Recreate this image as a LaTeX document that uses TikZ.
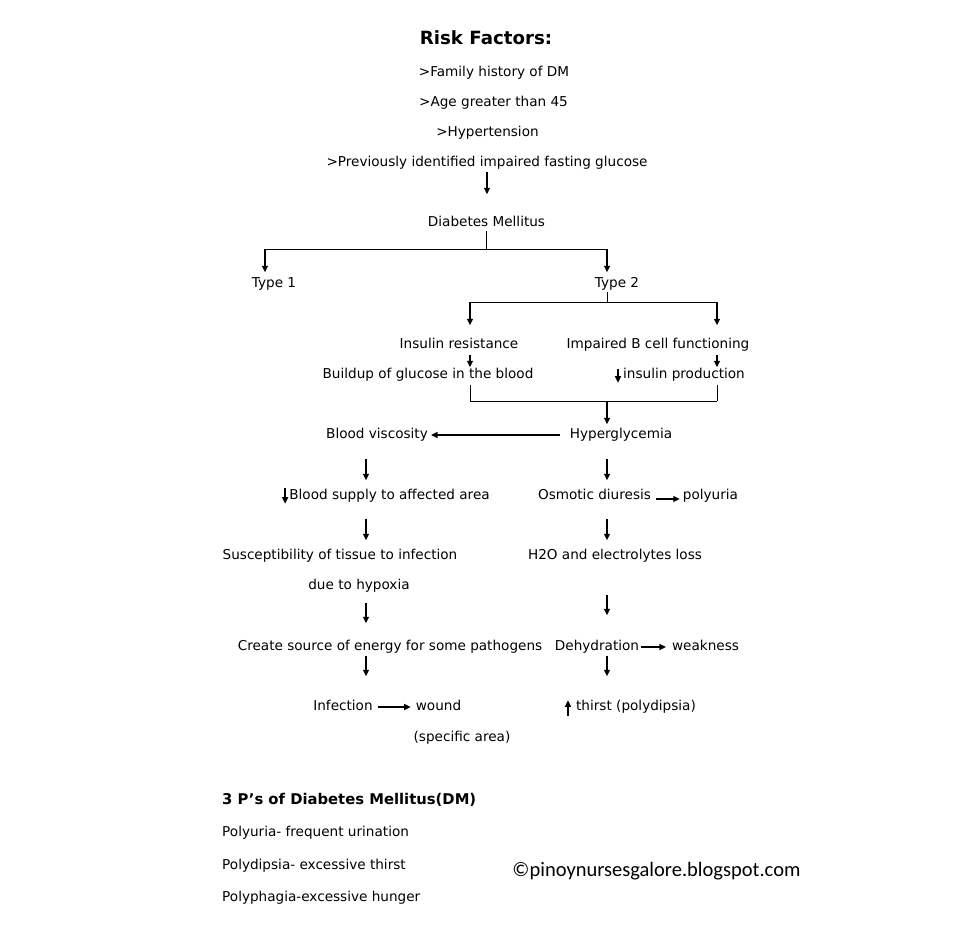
\documentclass[tikz,border=0pt]{standalone}
\usepackage{fontspec}
\setmainfont{DejaVu Sans}
\newfontfamily\blogfont{Carlito}
\usetikzlibrary{arrows.meta}
\tikzset{
  txt/.style={inner sep=0pt, text height=10pt, text depth=3pt, font=\fontsize{13.6}{15}\selectfont},
  head/.style={inner sep=0pt, font=\bfseries\fontsize{18.2}{20}\selectfont},
  arr/.style={-{Triangle[length=6.5pt,width=6pt]}, line width=1.4pt},
  ln/.style={line width=1pt}
}
\begin{document}
\begin{tikzpicture}[x=1pt,y=-1pt]
  \useasboundingbox (0,0) rectangle (962,926);

  % risk factors
  \node[head] (rf) at (486,38) {Risk Factors:};
  \node[txt] (rf1) at (494,73) {>Family history of DM};
  \node[txt] (rf2) at (493.5,103) {>Age greater than 45};
  \node[txt] (rf3) at (487.5,133) {>Hypertension};
  \node[txt] (rf4) at (487,163) {>Previously identified impaired fasting glucose};
  \node[txt] (dm) at (486.5,223) {Diabetes Mellitus};
  \draw[arr, shorten <=2pt, shorten >=22pt] (rf4.south) -- (rf4.south |- dm.north);

  % types
  \node[txt] (t1) at (274,284) {Type 1};
  \node[txt] (t2) at (617,284) {Type 2};
  \coordinate (dmL) at (265,249);
  \coordinate (dmR) at (607,249);
  \draw[ln, shorten <=1pt] (dm.south) -- (dm.south |- dmL);
  \draw[ln] (dmL) -- (dmR);
  \draw[arr] (dmL) -- ([yshift=5pt]dmL |- t1.north);
  \draw[arr] (dmR) -- ([yshift=5pt]dmR |- t2.north);

  % type 2 branches
  \node[txt] (ir) at (459,345) {Insulin resistance};
  \node[txt] (ib) at (658,345) {Impaired B cell functioning};
  \node[txt] (bg) at (428,375) {Buildup of glucose in the blood};
  \node[txt] (ip) at (684,375) {insulin production};
  \coordinate (t2L) at (470,302);
  \coordinate (t2R) at (717,302);
  \draw[ln, shorten <=1pt] (t2.south -| dmR) -- (dmR |- t2L);
  \draw[ln] (t2L) -- (t2R);
  \draw[arr] (t2L) -- ([yshift=13pt]t2L |- ir.north);
  \draw[arr] (t2R) -- ([yshift=13pt]t2R |- ib.north);
  \draw[arr, shorten <=3pt, shorten >=1pt] (t2L |- ir.south) -- (t2L |- bg.north);
  \draw[arr, shorten <=3pt, shorten >=1pt] (t2R |- ib.south) -- (t2R |- ip.north);
  \draw[arr] ([xshift=-5pt,yshift=-1pt]ip.north west) -- ([xshift=-5pt,yshift=-1pt]ip.south west);

  % hyperglycemia
  \node[txt] (hy) at (621,435) {Hyperglycemia};
  \node[txt] (bv) at (377,435) {Blood viscosity};
  \coordinate (bgR) at (470,401);
  \coordinate (ipR) at (717,401);
  \draw[ln, shorten <=3pt] (bgR |- bg.south) -- (bgR);
  \draw[ln, shorten <=3pt] (ipR |- ip.south) -- (ipR);
  \draw[ln] (bgR) -- (ipR);
  \draw[arr] (dmR |- bgR) -- ([yshift=4pt]dmR |- hy.north);
  \draw[arr, shorten <=10pt, shorten >=3pt] (hy.west) -- (bv.east);

  % left column
  \coordinate (colL) at (366,0);
  \node[txt] (bs) at (389.5,496) {Blood supply to affected area};
  \node[txt] (st) at (340,556) {Susceptibility of tissue to infection};
  \node[txt] (dh) at (359,586) {due to hypoxia};
  \node[txt] (cs) at (390,647) {Create source of energy for some pathogens};
  \node[txt] (inf) at (343,707) {Infection};
  \node[txt] (wd) at (438.5,707) {wound};
  \node[txt] (sa) at (462,738) {(specific area)};
  \draw[arr, shorten <=17pt, shorten >=9pt] (colL |- bv.south) -- (colL |- bs.north);
  \draw[arr] ([xshift=-4pt,yshift=1pt]bs.north west) -- ([xshift=-4pt,yshift=-1pt]bs.south west);
  \draw[arr, shorten <=16pt, shorten >=9pt] (colL |- bs.south) -- (colL |- st.north);
  \draw[arr, shorten <=10pt, shorten >=17pt] (colL |- dh.south) -- (colL |- cs.north);
  \draw[arr, shorten <=2pt, shorten >=24pt] (colL |- cs.south) -- (colL |- inf.north);
  \draw[arr, shorten <=5pt, shorten >=5pt] (inf.east) -- (wd.west);

  % right column
  \coordinate (colR) at (607,0);
  \node[txt] (od) at (594.5,496) {Osmotic diuresis};
  \node[txt] (po) at (710.5,496) {polyuria};
  \node[txt] (hl) at (615,556) {H2O and electrolytes loss};
  \node[txt] (de) at (597,647) {Dehydration};
  \node[txt] (wk) at (705.5,647) {weakness};
  \node[txt] (th) at (636,707) {thirst (polydipsia)};
  \draw[arr, shorten <=17pt, shorten >=9pt] (colR |- hy.south) -- (colR |- od.north);
  \draw[arr, shorten <=5pt, shorten >=3pt] ([yshift=-3pt]od.east) -- ([yshift=-3pt]po.west);
  \draw[arr, shorten <=16pt, shorten >=9pt] (colR |- od.south) -- (colR |- hl.north);
  \draw[arr, shorten <=32pt, shorten >=25pt] (colR |- hl.south) -- (colR |- de.north);
  \draw[arr, shorten <=2pt, shorten >=6pt] (de.east) -- (wk.west);
  \draw[arr, shorten <=2pt, shorten >=24pt] (colR |- de.south) -- (colR |- th.north);
  \draw[arr] ([xshift=-8pt,yshift=-2pt]th.south west) -- ([xshift=-8pt,yshift=0pt]th.north west);

  % 3 P's
  \node[head, anchor=west, font=\bfseries\fontsize{14.8}{17}\selectfont] (tp) at (222,800) {3 P’s of Diabetes Mellitus(DM)};
  \node[txt, anchor=west] (p1) at (222,833) {Polyuria- frequent urination};
  \node[txt, anchor=west] (p2) at (222,866) {Polydipsia- excessive thirst};
  \node[txt, anchor=west] (p3) at (222,898) {Polyphagia-excessive hunger};
  \node[inner sep=0pt, font=\blogfont\fontsize{20.5}{22}\selectfont] (cp) at (656.5,871) {©pinoynursesgalore.blogspot.com};
\end{tikzpicture}
\end{document}
